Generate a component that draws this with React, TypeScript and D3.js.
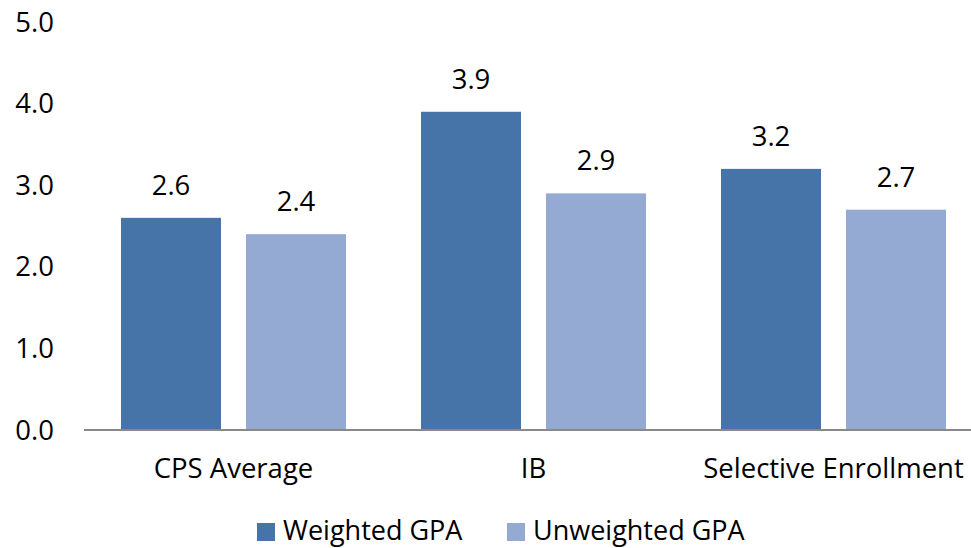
import React from "react";
import * as d3 from "d3";

const categories = ["CPS Average", "IB", "Selective Enrollment"];
const seriesNames = ["Weighted GPA", "Unweighted GPA"];
const weighted = [2.6, 3.9, 3.2];
const unweighted = [2.4, 2.9, 2.7];
const yTicks = [0, 1, 2, 3, 4, 5];
const colors = ["#4674A8", "#95AAD3"];

const W = 971;
const H = 548;
const FONT = "'Open Sans', Lato, sans-serif";

export default function App() {
  const x = d3.scaleBand<string>().domain(categories).range([83.5, 983.5]).paddingInner(0).paddingOuter(0);
  const x1 = d3.scaleBand<string>().domain(seriesNames).range([37.5, 262.5]).paddingInner(0.2);
  const y = d3.scaleLinear().domain([0, 5]).range([430, 22]);
  const series = [weighted, unweighted];
  const fs = 27.5;
  return (
    <svg width={W} height={H} style={{ position: "absolute", left: 0, top: 0, background: "#fff" }} fontFamily={FONT}>
      {yTicks.map((t) => (
        <text key={t} x={54} y={y(t)} dy="0.35em" textAnchor="end" fontSize={fs} fill="#000">
          {d3.format(".1f")(t)}
        </text>
      ))}
      {categories.map((c, ci) =>
        series.map((s, si) => {
          const bx = (x(c) as number) + (x1(seriesNames[si]) as number);
          return (
            <g key={c + si}>
              <rect x={bx} y={y(s[ci])} width={x1.bandwidth()} height={y(0) - y(s[ci])} fill={colors[si]} />
              <text x={bx + x1.bandwidth() / 2} y={y(s[ci]) - 23} textAnchor="middle" fontSize={fs} fill="#000">
                {d3.format(".1f")(s[ci])}
              </text>
            </g>
          );
        })
      )}
      <line x1={84} x2={W} y1={y(0)} y2={y(0)} stroke="#898989" strokeWidth={2} />
      {categories.map((c) => (
        <text key={c} x={(x(c) as number) + x.bandwidth() / 2} y={478} textAnchor="middle" fontSize={fs} fill="#000">
          {c}
        </text>
      ))}
      {seriesNames.map((n, i) => {
        const lx = [257, 507][i];
        return (
          <g key={n}>
            <rect x={lx} y={523} width={18} height={18} fill={colors[i]} />
            <text x={lx + 26} y={540} fontSize={27} fill="#000">{n}</text>
          </g>
        );
      })}
    </svg>
  );
}
